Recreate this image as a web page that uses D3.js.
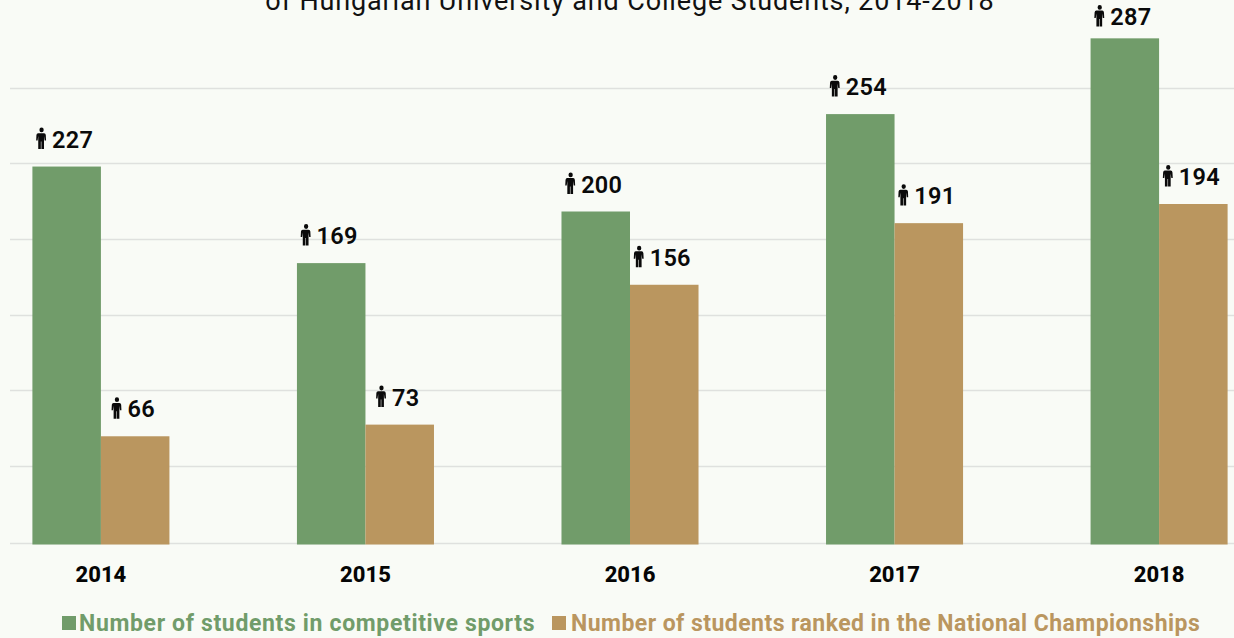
<!DOCTYPE html>
<html>
<head>
<meta charset="utf-8">
<script src="https://d3js.org/d3.v7.min.js"></script>
<style>
  html, body { margin: 0; padding: 0; background: #f9fbf6; overflow: hidden; }
  svg { display: block; font-family: Roboto, sans-serif; }
</style>
</head>
<body>
<svg width="1234" height="638"></svg>
<script>
var years = ["2014", "2015", "2016", "2017", "2018"];
var seriesNames = ["Number of students in competitive sports", "Number of students ranked in the National Championships"];
var seriesColors = ["#719c6a", "#ba965f"];

// printed above the bars
var sportsLabels = [227, 169, 200, 254, 287];
var rankedLabels = [66, 73, 156, 191, 194];

// bar heights as drawn in the picture, they don't follow the printed numbers exactly
var sportsBars = [227, 169, 200, 258.5, 304];
var rankedBars = [65, 72, 156, 193, 204.5];

var gridTicks = [0.5, 46.5, 92, 137.5, 183, 228.5, 273.5];
var title = "of Hungarian University and College Students, 2014-2018";

var svg = d3.select("svg");

var x = d3.scaleBand()
    .domain(years)
    .range([32.4, 1227.6])
    .paddingInner(0.482)
    .paddingOuter(0);

var xInner = d3.scaleBand()
    .domain([0, 1])
    .range([0, x.bandwidth()]);

var y = d3.scaleLinear()
    .domain([0, 300])
    .range([544.5, 45]);

// gridlines
svg.append("g")
    .selectAll("line")
    .data(gridTicks)
    .enter().append("line")
    .attr("x1", 10)
    .attr("x2", 1234)
    .attr("y1", function(d) { return Math.round(y(d)) - 0.5; })
    .attr("y2", function(d) { return Math.round(y(d)) - 0.5; })
    .attr("stroke", "#dfe1de")
    .attr("stroke-width", 1.3);

var bars = [sportsBars, rankedBars];
var labels = [sportsLabels, rankedLabels];

bars.forEach(function(values, s) {
  svg.append("g")
      .selectAll("rect")
      .data(values)
      .enter().append("rect")
      .attr("x", function(d, i) { return x(years[i]) + xInner(s); })
      .attr("y", function(d) { return y(d); })
      .attr("width", xInner.bandwidth())
      .attr("height", function(d) { return y(0) - y(d); })
      .attr("fill", seriesColors[s]);
});

// little person icon, origin at top left, about 10x21 before scaling
var personPath = "M5 0a2.4 2.4 0 1 1 0 4.8a2.4 2.4 0 1 1 0-4.8z" +
    "M2.2 5.6h5.6q1.7 0 1.9 1.8l.3 5.6h-1.6l-.7-4.6v13h-2.9v-7.4h-.6v7.4h-2.9v-13l-.7 4.6h-1.6l.3-5.6q.2-1.8 1.9-1.8z";

labels.forEach(function(values, s) {
  values.forEach(function(v, i) {
    var barX = x(years[i]) + xInner(s);
    var base = Math.max(25, y(bars[s][i]) - 19);
    var g = svg.append("g");
    var t = g.append("text")
        .attr("y", base)
        .attr("fill", "#0a0a0a")
        .style("font-size", "23.5px")
        .style("font-weight", 600)
        .style("letter-spacing", "0.3px")
        .text(v);
    var w = t.node().getComputedTextLength();
    var left = barX + xInner.bandwidth() / 2 - 1.5 - (w + 15) / 2;
    t.attr("x", left + 15);
    g.append("path")
        .attr("d", personPath)
        .attr("transform", "translate(" + left + "," + (base - 20) + ") scale(0.9,1)")
        .attr("fill", "#0a0a0a");
  });
});

// year labels
svg.append("g")
    .selectAll("text")
    .data(years)
    .enter().append("text")
    .attr("x", function(d) { return x(d) + x.bandwidth() / 2; })
    .attr("y", 582)
    .attr("text-anchor", "middle")
    .attr("fill", "#050505")
    .style("font-size", "22px")
    .style("font-weight", 800)
    .text(function(d) { return d; });

svg.append("text")
    .attr("x", 630)
    .attr("y", 10)
    .attr("text-anchor", "middle")
    .attr("fill", "#111")
    .style("font-size", "27px")
    .style("letter-spacing", "0.85px")
    .text(title);

// legend
var legendSwatch = [62, 552];
var legendText = [79, 571];
var legendSpacing = [0.65, 0.45];
seriesNames.forEach(function(name, s) {
  svg.append("rect")
      .attr("x", legendSwatch[s])
      .attr("y", 616)
      .attr("width", 14)
      .attr("height", 14)
      .attr("fill", seriesColors[s]);
  svg.append("text")
      .attr("x", legendText[s])
      .attr("y", 631)
      .attr("fill", seriesColors[s])
      .style("font-size", "23px")
      .style("font-weight", 700)
      .style("letter-spacing", legendSpacing[s] + "px")
      .text(name);
});
</script>
</body>
</html>
